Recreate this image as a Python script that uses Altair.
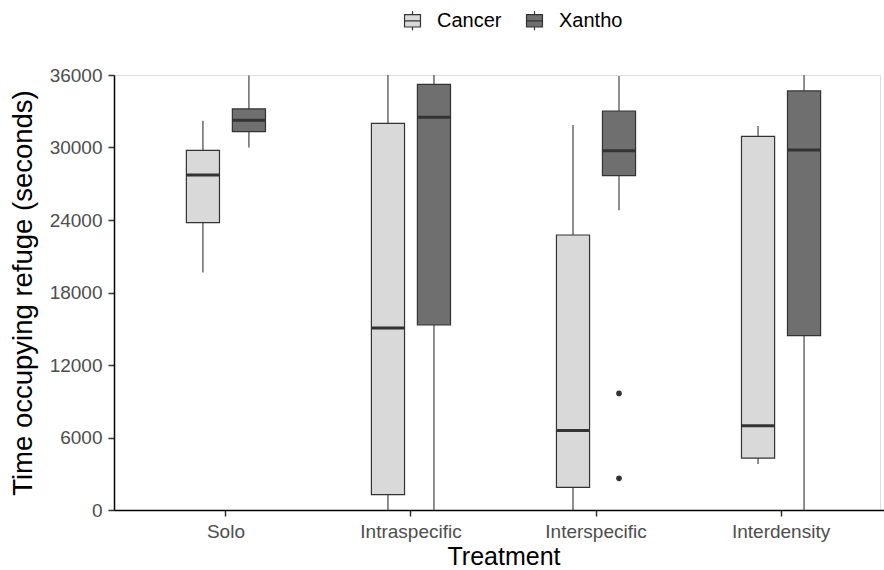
import altair as alt
import pandas as pd

treatments = ["Solo", "Intraspecific", "Interspecific", "Interdensity"]
species = ["Cancer", "Xantho"]
fill_colors = ["#d9d9d9", "#6f6f6f"]

# one entry per box (treatment x species)
box_treatment = ["Solo", "Solo", "Intraspecific", "Intraspecific",
                 "Interspecific", "Interspecific", "Interdensity", "Interdensity"]
box_species = ["Cancer", "Xantho"] * 4
whisker_low = [19650, 30010, 0, 0, 0, 24800, 3810, 0]
q1 = [23780, 31310, 1270, 15310, 1880, 27670, 4300, 14430]
median = [27720, 32250, 15060, 32500, 6570, 29740, 6980, 29790]
q3 = [29770, 33190, 32000, 35230, 22760, 33020, 30920, 34680]
whisker_high = [32220, 35950, 36000, 36000, 31860, 35920, 31780, 36000]

outlier_treatment = ["Interspecific", "Interspecific"]
outlier_species = ["Xantho", "Xantho"]
outlier_value = [9650, 2620]

box_df = pd.DataFrame({
    "treatment": box_treatment, "species": box_species,
    "lo": whisker_low, "q1": q1, "median": median, "q3": q3, "hi": whisker_high,
})
out_df = pd.DataFrame({
    "treatment": outlier_treatment, "species": outlier_species, "value": outlier_value,
})

FONT = "Liberation Sans"
DARK = "#333333"

x_enc = alt.X(
    "treatment:N", sort=treatments, title="Treatment",
    scale=alt.Scale(range=[0, 779], paddingInner=0, paddingOuter=0.105),
    axis=alt.Axis(labelAngle=0, labelFontSize=19, labelColor="#4d4d4d", labelFont=FONT,
                  titleFontSize=25, titleFont=FONT, titleColor="black", titleFontWeight="normal",
                  titlePadding=3, labelPadding=6, tickSize=6, tickColor=DARK, tickWidth=1.5,
                  domainColor="black", domainWidth=1.5, grid=False),
)
xo_enc = alt.XOffset("species:N", sort=species,
                     scale=alt.Scale(range=[29.95, 155.05], paddingInner=0.28, paddingOuter=0.5))
y_scale = alt.Scale(domain=[0, 36000], nice=False, zero=True)
y_axis = alt.Axis(values=[0, 6000, 12000, 18000, 24000, 30000, 36000], format="d",
                  labelFontSize=19, labelColor="#4d4d4d", labelFont=FONT,
                  titleFontSize=27.5, titleFont=FONT, titleColor="black", titleFontWeight="normal",
                  titlePadding=12, labelPadding=6, tickSize=6, tickColor=DARK, tickWidth=1.5,
                  domainColor="black", domainWidth=1.5, grid=False)

legend_symbol = "M-0.84,-0.65H0.84V0.65H-0.84Z M0,-1V-0.65 M0,0.65V1 M-0.84,0H0.84"

base = alt.Chart(box_df)

whiskers = base.mark_rule(color=DARK, strokeWidth=1.1).encode(
    x=x_enc, xOffset=xo_enc,
    y=alt.Y("lo:Q", scale=y_scale, axis=y_axis, title="Time occupying refuge (seconds)"),
    y2="hi:Q",
)

boxes = base.mark_bar(stroke=DARK, strokeWidth=1.2, opacity=1).encode(
    x=x_enc, xOffset=xo_enc,
    y=alt.Y("q1:Q", scale=y_scale),
    y2="q3:Q",
    fill=alt.Fill("species:N", sort=species,
                  scale=alt.Scale(domain=species, range=fill_colors),
                  legend=alt.Legend(title=None, orient="none", direction="horizontal",
                                    legendX=288, legendY=-65,
                                    symbolType=legend_symbol, symbolSize=361,
                                    symbolStrokeColor=DARK, symbolStrokeWidth=1.2,
                                    symbolOpacity=1,
                                    labelFontSize=20, labelFont=FONT, labelColor="black",
                                    labelOffset=14, columnPadding=22)),
)

medians = base.mark_tick(color=DARK, thickness=3, size=33, orient="horizontal", opacity=1).encode(
    x=x_enc, xOffset=xo_enc,
    y=alt.Y("median:Q", scale=y_scale),
)

outliers = alt.Chart(out_df).mark_circle(size=32, color=DARK, opacity=1).encode(
    x=x_enc, xOffset=xo_enc,
    y=alt.Y("value:Q", scale=y_scale),
)

chart = alt.layer(whiskers, boxes, medians, outliers).properties(
    width=766, height=435,
    autosize=alt.AutoSizeParams(type="none"),
    padding={"left": 114, "top": 75, "right": 4, "bottom": 60},
).configure_view(stroke=None).configure(background="white")

chart.save("out.html", embed_options={"renderer": "svg", "actions": False})
